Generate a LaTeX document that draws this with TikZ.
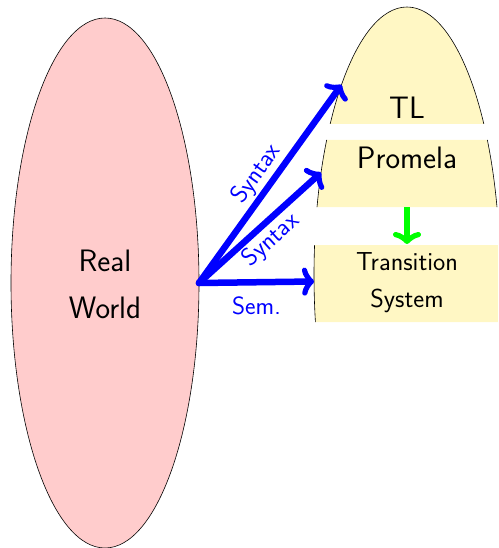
\documentclass[tikz,border=0pt]{standalone}
\usepackage{fontspec}
\usetikzlibrary{shapes.geometric,arrows.meta}
\definecolor{pinkfill}{RGB}{255,204,204}
\definecolor{yelfill}{RGB}{255,247,196}
\begin{document}
\begin{tikzpicture}[x=1pt,y=-1pt,
  rwshape/.style={ellipse,draw=black,line width=0.6pt,fill=pinkfill,minimum width=188pt,minimum height=530pt,inner sep=0pt,outer sep=0pt},
  ysshape/.style={ellipse,draw=black,line width=0.6pt,fill=yelfill,minimum width=186pt,minimum height=536pt,inner sep=0pt,outer sep=0pt},
  bigtext/.style={font=\sffamily\fontsize{31}{47}\selectfont,align=center,inner sep=0pt},
  midtext/.style={font=\sffamily\fontsize{26}{37}\selectfont,align=center,inner sep=0pt},
  lbl/.style={font=\sffamily\fontsize{25}{28}\selectfont,text=blue},
  bluearrow/.style={draw=blue,line width=6.5pt,line cap=round,line join=round,-{Classical TikZ Rightarrow[length=12pt,width=28pt,round]}},
  greenarrow/.style={draw=green,line width=6.5pt,-{Classical TikZ Rightarrow[length=12pt,width=28pt,round]}}
]
\useasboundingbox (0,0) rectangle (498,548);
\node[rwshape] (rw) at (105,283) {};
\node[bigtext] (rwt) at (105,284) {Real\\World};
\begin{scope}
  \clip (300,0) rectangle (498,124) (300,140) rectangle (498,207) (300,245) rectangle (498,322);
  \node[ysshape] (ys) at (407,275) {};
\end{scope}
\node[bigtext,anchor=base] (tl) at (407,119) {TL};
\node[bigtext,anchor=base] (pm) at (407,168) {Promela};
\node[midtext] (ts) at (407,283) {Transition\\System};
\coordinate (g1) at (407,207);
\coordinate (g2) at (407,244);
\draw[bluearrow] (rw.east) -- node[lbl,sloped,above,inner sep=2pt] {Syntax} (ys.109.7);
\draw[bluearrow] (rw.east) -- node[lbl,sloped,below,inner sep=2pt] {Syntax} (ys.130.8);
\draw[bluearrow] (rw.east) -- node[lbl,below=8pt] {Sem.} (ys.184.3);
\draw[greenarrow] (g1) -- (g2);
\end{tikzpicture}
\end{document}
